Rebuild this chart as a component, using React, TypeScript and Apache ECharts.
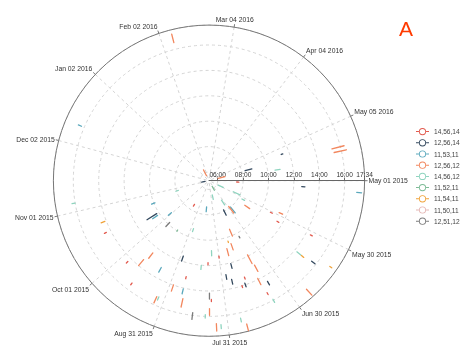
import React, { useEffect, useRef } from "react";
import * as echarts from "echarts";

type Seg = [string, string, string]; // date, start time, end time

const seriesNames = ["14,56,14", "12,56,14", "11,53,11", "12,56,12", "14,56,12", "11,52,11", "11,54,11", "11,50,11", "12,51,12"];
const seriesColors = ["#e25a4e", "#34495e", "#5aa8bc", "#f2875e", "#8fd4bf", "#7dbb96", "#f0a33a", "#e4b6b4", "#7b7b7b"];

const s14_56_14: Seg[] = [
  ["2015-05-04", "07:30", "07:40"], ["2015-09-12", "07:30", "07:40"], ["2015-05-31", "10:45", "10:55"],
  ["2015-06-04", "11:33", "11:43"], ["2015-07-31", "11:18", "11:28"], ["2015-10-17", "14:22", "14:32"],
  ["2015-09-27", "14:20", "14:30"], ["2015-08-09", "11:46", "11:56"], ["2015-08-23", "13:05", "13:15"],
  ["2015-09-18", "15:24", "15:34"], ["2015-08-07", "14:40", "14:50"], ["2015-07-20", "13:58", "14:08"],
  ["2015-07-17", "13:24", "13:34"], ["2015-07-09", "15:15", "15:25"], ["2015-06-01", "14:22", "14:32"],
];
const s12_56_14: Seg[] = [
  ["2016-05-10", "11:22", "11:30"], ["2016-05-15", "08:16", "08:49"], ["2015-11-04", "05:38", "05:54"],
  ["2015-05-05", "12:38", "12:53"], ["2015-07-10", "07:53", "08:21"], ["2015-10-11", "10:11", "11:05"],
  ["2015-08-29", "11:35", "12:00"], ["2015-07-23", "12:04", "12:27"], ["2015-07-28", "12:50", "13:12"],
  ["2015-07-25", "13:17", "13:40"], ["2015-07-18", "13:52", "14:10"], ["2015-07-06", "14:29", "14:48"],
  ["2015-06-12", "15:35", "15:55"],
];
const s11_53_11: Seg[] = [
  ["2015-12-11", "16:14", "16:30"], ["2015-05-06", "16:59", "17:22"], ["2015-06-26", "08:00", "08:35"],
  ["2015-08-14", "07:23", "07:46"], ["2015-10-22", "09:55", "10:12"], ["2015-10-09", "10:12", "10:40"],
  ["2015-10-02", "09:12", "09:31"], ["2015-09-09", "13:07", "13:32"], ["2015-08-23", "14:04", "14:28"],
];
const s12_56_12: Seg[] = [
  ["2016-02-07", "16:32", "17:13"], ["2016-01-24", "05:45", "06:16"], ["2016-05-16", "15:19", "16:18"],
  ["2016-05-18", "15:25", "16:24"], ["2016-05-16", "06:04", "06:37"], ["2015-06-28", "07:52", "08:31"],
  ["2015-06-08", "08:44", "09:12"], ["2015-05-28", "11:23", "11:41"], ["2015-07-14", "09:28", "10:03"],
  ["2015-07-18", "10:34", "11:05"], ["2015-07-09", "11:54", "12:40"], ["2015-07-08", "12:52", "13:26"],
  ["2015-07-23", "10:51", "11:25"], ["2015-09-21", "13:23", "14:00"], ["2015-09-19", "12:31", "13:03"],
  ["2015-08-29", "13:59", "14:30"], ["2015-09-04", "15:20", "15:52"], ["2015-08-22", "14:50", "15:30"],
  ["2015-08-08", "15:23", "15:55"], ["2015-08-05", "16:35", "17:10"], ["2015-07-10", "13:55", "14:28"],
  ["2015-06-23", "16:48", "17:26"], ["2015-07-23", "16:59", "17:34"],
];
const s14_56_12: Seg[] = [
  ["2016-05-22", "10:35", "10:59"], ["2015-05-28", "07:25", "08:00"], ["2015-05-29", "06:07", "06:33"],
  ["2015-07-25", "06:28", "06:49"], ["2015-07-03", "07:08", "07:35"], ["2015-06-02", "08:17", "08:31"],
  ["2015-08-28", "09:17", "09:32"], ["2015-08-06", "10:50", "11:14"], ["2015-11-05", "16:00", "16:15"],
  ["2015-10-27", "07:51", "08:03"], ["2015-08-14", "12:01", "12:20"], ["2015-09-03", "15:17", "15:33"],
  ["2015-08-10", "15:52", "16:08"], ["2015-08-03", "16:41", "17:00"], ["2015-07-08", "15:55", "16:12"],
  ["2015-06-13", "14:13", "14:37"], ["2015-07-25", "16:25", "16:43"],
];
const s11_52_11: Seg[] = [
  ["2015-07-07", "05:50", "06:11"], ["2015-09-13", "09:55", "10:02"],
];
const s11_54_11: Seg[] = [
  ["2015-07-20", "10:18", "10:25"], ["2015-10-23", "14:07", "14:26"], ["2015-06-13", "14:41", "14:55"],
  ["2015-06-09", "16:59", "17:10"],
];
const s11_50_11: Seg[] = [];
const s12_51_12: Seg[] = [
  ["2015-07-08", "10:18", "10:26"], ["2015-09-25", "09:50", "10:16"], ["2015-08-08", "14:10", "14:38"],
  ["2015-08-16", "15:47", "16:19"],
];

const allSeries = [s14_56_14, s12_56_14, s11_53_11, s12_56_12, s14_56_12, s11_52_11, s11_54_11, s11_50_11, s12_51_12];

const dateMin = "2015-05-01";
const dateMax = "2016-06-01";
const angleTickDates = ["2015-05-01", "2015-05-30", "2015-06-30", "2015-07-31", "2015-08-31", "2015-10-01", "2015-11-01", "2015-12-02", "2016-01-02", "2016-02-02", "2016-03-04", "2016-04-04", "2016-05-05"];
const radiusMin = "05:19";
const radiusMax = "17:34";
const radiusTicks = ["06:00", "08:00", "10:00", "12:00", "14:00", "16:00", "17:34"];

const MONTHS = ["Jan", "Feb", "Mar", "Apr", "May", "Jun", "Jul", "Aug", "Sep", "Oct", "Nov", "Dec"];
const DAY = 86400000;
const utc = (s: string) => {
  const [y, m, d] = s.split("-").map(Number);
  return Date.UTC(y, m - 1, d);
};
const base = utc(dateMin);
const dayOf = (s: string) => (utc(s) - base) / DAY;
const hrs = (s: string) => {
  const [h, m] = s.split(":").map(Number);
  return h + m / 60;
};
const fmtDate = (v: number) => {
  const dt = new Date(base + Math.round(v) * DAY);
  return `${MONTHS[dt.getUTCMonth()]} ${String(dt.getUTCDate()).padStart(2, "0")} ${dt.getUTCFullYear()}`;
};
const fmtTime = (v: number) => {
  const total = Math.round(v * 60);
  const h = Math.floor(total / 60);
  const m = total % 60;
  return `${String(h).padStart(2, "0")}:${String(m).padStart(2, "0")}`;
};

// legend icon: short line with a hollow ring in the middle (13 x 8 box)
const LEGEND_ICON =
  "path://M0,3.5L2.9,3.5L2.9,4.5L0,4.5Z" +
  "M10.1,3.5L13,3.5L13,4.5L10.1,4.5Z" +
  "M10.1,4A3.6,3.6,0,1,1,2.9,4A3.6,3.6,0,1,1,10.1,4Z" +
  "M9.2,4A2.7,2.7,0,1,0,3.8,4A2.7,2.7,0,1,0,9.2,4Z";

const FONT = "'Liberation Sans', Arial, Helvetica, sans-serif";

export default function App() {
  const ref = useRef<HTMLDivElement>(null);
  useEffect(() => {
    if (!ref.current) return;
    const chart = echarts.init(ref.current, undefined, { renderer: "svg" });
    const angleVals = angleTickDates.map(dayOf);
    const radiusVals = radiusTicks.map(hrs);
    const series = seriesNames.map((name, i) => ({
      name,
      type: "line",
      coordinateSystem: "polar",
      symbol: "emptyCircle",
      symbolSize: 6,
      showSymbol: false,
      connectNulls: false,
      silent: true,
      color: seriesColors[i],
      itemStyle: { color: seriesColors[i] },
      lineStyle: { color: seriesColors[i], width: 1.3, cap: "round" },
      data: allSeries[i].flatMap(([d, t1, t2]) => [
        [hrs(t1), dayOf(d)],
        [hrs(t2), dayOf(d)],
        ["-", "-"],
      ]),
    }));
    chart.setOption({
      animation: false,
      textStyle: { fontFamily: FONT },
      title: {
        text: "A",
        left: 399,
        top: 18,
        padding: 0,
        textStyle: { color: "#ff3a00", fontSize: 21, fontWeight: "normal", fontFamily: FONT },
      },
      legend: {
        orient: "vertical",
        left: 416,
        top: 128,
        padding: 0,
        itemWidth: 13,
        itemHeight: 8,
        itemGap: 4,
        data: seriesNames.map((name, i) => ({
          name,
          icon: LEGEND_ICON,
          itemStyle: { color: seriesColors[i], borderWidth: 0 },
        })),
        textStyle: { fontSize: 6.6, color: "#444", fontFamily: FONT },
      },
      polar: { center: [209, 180.7], radius: 155.6 },
      angleAxis: {
        type: "value",
        min: 0,
        max: dayOf(dateMax),
        startAngle: 0,
        clockwise: true,
        axisLine: { show: true, lineStyle: { color: "#777", width: 1 } },
        axisTick: { show: true, length: 3, customValues: angleVals, lineStyle: { color: "#777" } },
        axisLabel: { customValues: angleVals, formatter: fmtDate, fontSize: 6.8, color: "#333", margin: 4, fontFamily: FONT },
        splitLine: { show: true, lineStyle: { color: "#d4d4d4", type: [3, 3], width: 1 } },
      },
      radiusAxis: {
        type: "value",
        min: hrs(radiusMin),
        max: hrs(radiusMax),
        axisLine: { show: true, lineStyle: { color: "#666", width: 1 } },
        axisTick: { show: true, length: 3, inside: true, customValues: radiusVals, lineStyle: { color: "#666" } },
        axisLabel: { customValues: radiusVals, formatter: fmtTime, fontSize: 6.6, color: "#333", margin: 3, fontFamily: FONT },
        splitLine: { show: true, lineStyle: { color: "#d4d4d4", type: [3, 3], width: 1 } },
      },
      series,
    });
    return () => chart.dispose();
  }, []);
  return <div ref={ref} style={{ position: "fixed", left: 0, top: 0, width: 470, height: 364 }} />;
}
